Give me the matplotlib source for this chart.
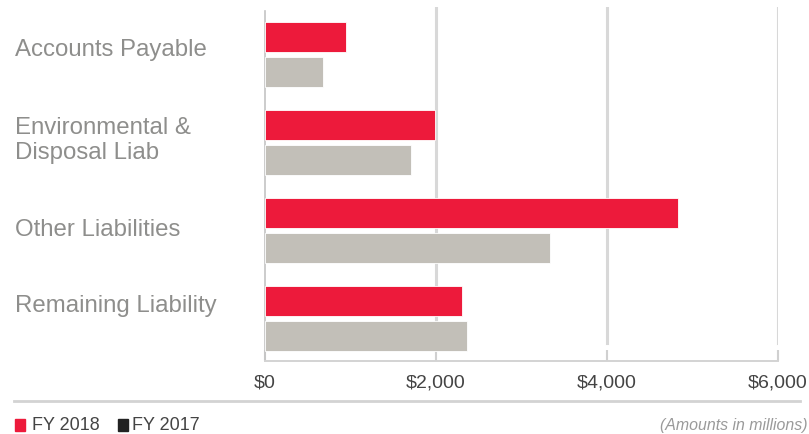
import matplotlib
matplotlib.use("Agg")
import matplotlib.pyplot as plt
import matplotlib.transforms as mtransforms
import numpy as np

# Liability categories and balances (USD millions)
categories = ["Accounts Payable", "Environmental &\nDisposal Liab",
              "Other Liabilities", "Remaining Liability"]
fy2018 = [950, 1985, 4830, 2305]
fy2017 = [680, 1705, 3335, 2360]
xticks = [0, 2000, 4000, 6000]
xtick_labels = ["$0", "$2,000", "$4,000", "$6,000"]
series_names = ["FY 2018", "FY 2017"]

RED = "#ED1A3B"
GREY = "#C2BFB8"
TEXT = "#8E8E8C"
DARK = "#444444"
GRID = "#D8D8D8"

W, H = 809, 435
fig = plt.figure(figsize=(W / 100, H / 100), dpi=100)
plt.rcParams["font.family"] = ["Liberation Sans", "DejaVu Sans"]

# axes placed in pixel terms
left_px, right_px, top_px, bottom_px = 265, 778, 8, 362
ax = fig.add_axes([left_px / W, 1 - bottom_px / H,
                   (right_px - left_px) / W, (bottom_px - top_px) / H])

spacing = 88.0            # px between category groups
first_center = 55.5       # px from top to first group centre
bar_h = 30 / spacing
off = 17.5 / spacing
y = np.arange(len(categories))

ax.barh(y - off, fy2018, height=bar_h, color=RED, edgecolor="white",
        linewidth=0.6, zorder=3)
ax.barh(y + off, fy2017, height=bar_h, color=GREY, edgecolor="white",
        linewidth=0.6, zorder=3)

ax.set_xlim(0, 6000)
ax.set_ylim((bottom_px - first_center) / spacing,
            (top_px - first_center) / spacing)

# grid and axes lines
ax.set_xticks(xticks)
ax.set_xticklabels(xtick_labels, fontsize=14, color=DARK)
ax.tick_params(axis="x", direction="in", length=8, width=1.5, color="#D0D0D0",
               pad=9)
ax.set_yticks([])
grid_bottom = (bottom_px - 344) / (bottom_px - top_px)
for v in xticks[1:]:
    ax.axvline(v, ymin=grid_bottom, ymax=1, color=GRID, linewidth=2.2,
               zorder=1)
for s in ["top", "right"]:
    ax.spines[s].set_visible(False)
ax.spines["bottom"].set_color("#D3D3D3")
ax.spines["bottom"].set_linewidth(1.4)
ax.spines["left"].set_color("#C4C4C4")
ax.spines["left"].set_linewidth(1.2)
ax.spines["left"].set_bounds((bottom_px - first_center) / spacing,
                             (12 - first_center) / spacing)

# category labels, left aligned at the figure edge
label_shift_px = [-5.5, -3, -1, -13]
trans = mtransforms.blended_transform_factory(fig.transFigure, ax.transData)
for i, name in enumerate(categories):
    ax.text(15 / W, i + label_shift_px[i] / spacing, name, transform=trans,
            ha="left", va="center", fontsize=17.3, color=TEXT,
            linespacing=1.12)

# footer separator, legend and note
fig.add_artist(plt.Line2D([14 / W, 800 / W], [1 - 402 / H, 1 - 402 / H],
                          color="#D3D3D3", linewidth=2))
leg_y = 1 - 426 / H
for x0, col, name, tx in [(15, RED, series_names[0], 32),
                          (118, "#222222", series_names[1], 132)]:
    fig.add_artist(plt.Rectangle((x0 / W, 1 - 432 / H), 10 / W, 12 / H,
                                 color=col, transform=fig.transFigure))
    fig.text(tx / W, leg_y, name, ha="left", va="center", fontsize=13,
             color=DARK)
fig.text(807 / W, leg_y, "(Amounts in millions)", ha="right", va="center",
         fontsize=11.4, color="#9A9A9A", style="italic")

fig.savefig("out.png", dpi=100, facecolor="white")
